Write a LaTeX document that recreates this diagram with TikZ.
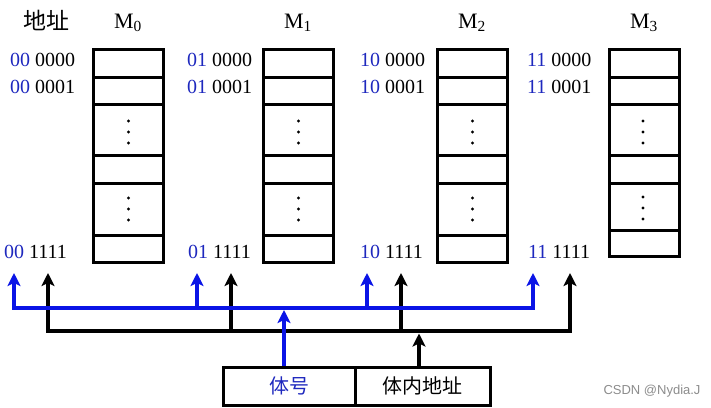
\documentclass[tikz,border=0pt]{standalone}
\usepackage{fontspec}
\setmainfont{Liberation Serif}
\newfontfamily\cjk{Noto Sans CJK SC}
\newfontfamily\wmfont{Liberation Sans}
\usetikzlibrary{arrows.meta}
\definecolor{addrblue}{RGB}{30,40,190}
\definecolor{busblue}{RGB}{10,20,230}
\newcommand{\bl}[1]{\textcolor{addrblue}{#1}}
\begin{document}
\begin{tikzpicture}[x=1pt,y=-1pt,
  cellbox/.style={draw,line width=3pt},
  addr/.style={anchor=base west,inner sep=0pt,font=\fontsize{20}{20}\selectfont},
  banklabel/.style={anchor=base,inner sep=0pt,font=\fontsize{22}{22}\selectfont},
  vdot/.style={fill,circle,inner sep=0pt,minimum size=3.2pt},
  busline/.style={line width=4pt,line cap=rect},
  arr/.style={line width=4pt,-{Stealth[length=13pt,width=13pt,inset=3pt]}},
  fieldbox/.style={draw,line width=3pt,minimum height=38pt,inner sep=0pt,font=\cjk\fontsize{20}{20}\selectfont}
]
\useasboundingbox (0,0) rectangle (711,407);

% header
\node[font=\cjk\fontsize{23}{23}\selectfont,inner sep=0pt] (hdr) at (46,20) {地址};

% memory banks
\foreach \i/\x in {0/93,1/263,2/437} {
  \draw[cellbox] (\x,49) rectangle (\x+70,262);
  \foreach \yy in {77,104,155,183,235} \draw[cellbox] (\x,\yy) -- (\x+70,\yy);
  \node[banklabel] (M\i) at (\x+35,28) {M\textsubscript{\i}};
  \foreach \yy in {121,132,143,198,209,220} \node[vdot] at (\x+35.5,\yy) {};
}
\draw[cellbox] (609,49) rectangle (679,256);
\foreach \yy in {77,104,155,183,230} \draw[cellbox] (609,\yy) -- (679,\yy);
\node[banklabel] (M3) at (644,28) {M\textsubscript{3}};
\foreach \yy in {121,132,143,197,208,219} \node[vdot] at (643,\yy) {};

% addresses
\node[addr] (a00) at (10,66) {\bl{00} 0000};
\node[addr] (a01) at (10,93) {\bl{00} 0001};
\node[addr] (a0f) at (4,258) {\bl{00} 1111};
\node[addr] (a10) at (187,66) {\bl{01} 0000};
\node[addr] (a11) at (187,93) {\bl{01} 0001};
\node[addr] (a1f) at (188,258) {\bl{01} 1111};
\node[addr] (a20) at (360,66) {\bl{10} 0000};
\node[addr] (a21) at (360,93) {\bl{10} 0001};
\node[addr] (a2f) at (360,258) {\bl{10} 1111};
\node[addr] (a30) at (527,66) {\bl{11} 0000};
\node[addr] (a31) at (527,93) {\bl{11} 0001};
\node[addr] (a3f) at (528,258) {\bl{11} 1111};

% address fields
\node[fieldbox,minimum width=132pt,text=addrblue] (bank) at (289,386) {体号};
\node[fieldbox,minimum width=135pt] (offset) at (422.5,386) {体内地址};

% bus coordinates
\coordinate (bL) at (14,308);
\coordinate (bR) at (533,308);
\coordinate (kL) at (48,331);
\coordinate (kR) at (570,331);
\coordinate (bx) at (284,0);
\coordinate (kx) at (419,0);

% black bus
\draw[busline] (kL) -- (kR);
\foreach \x in {48,231,401,570} \draw[arr] (\x,331) -- (\x,273);
\draw[arr] (offset.north -| kx) -- (419,333.5);

% blue bus
\draw[busline,busblue] (bL) -- (bR);
\foreach \x in {14,197,367,533} \draw[arr,busblue] (\x,308) -- (\x,273);
\draw[arr,busblue] (bank.north -| bx) -- (284,310);

% watermark
\node[font=\wmfont\fontsize{13}{13}\selectfont,text=black!45] (wm) at (652,391) {CSDN @Nydia.J};
\end{tikzpicture}
\end{document}
